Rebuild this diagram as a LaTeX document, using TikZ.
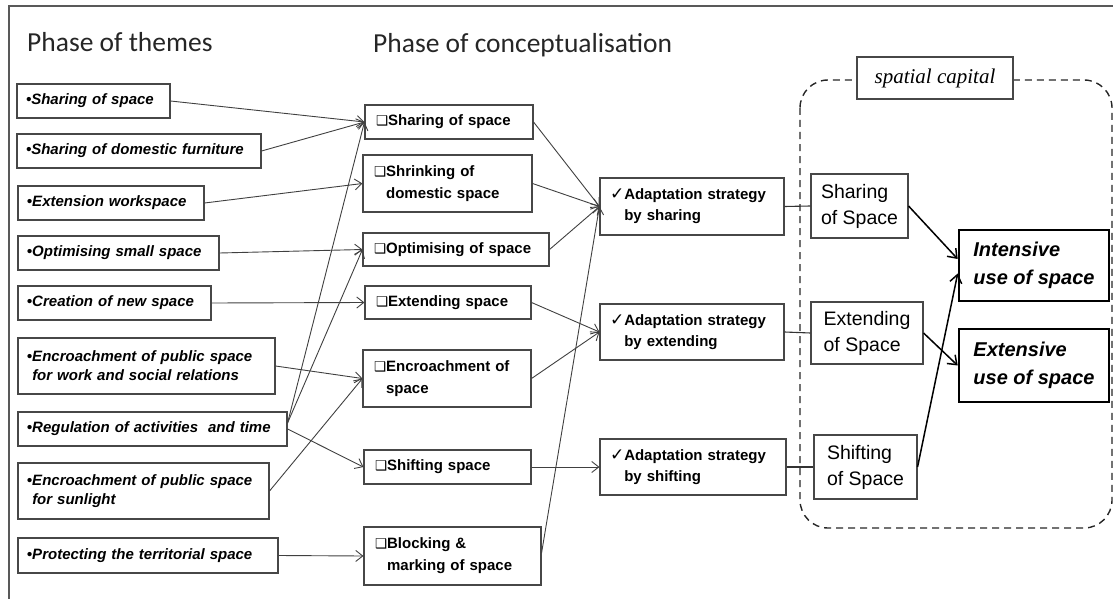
\documentclass[tikz,border=0pt]{standalone}
\usepackage{fontspec}
\setmainfont{Liberation Sans}
\newfontfamily\calib{Carlito}
\newfontfamily\tms{Liberation Serif}
\newfontfamily\djv{DejaVu Sans}
\usetikzlibrary{arrows.meta}
\newcommand{\sqb}{{\djv\fontsize{13.5}{13.5}\selectfont ❑}}
\newcommand{\ckm}{{\djv\fontsize{17}{17}\selectfont ✓}}
\newcommand{\bul}{•}
\begin{document}
\begin{tikzpicture}[x=1pt,y=-1pt,
  box/.style={draw=black!72, line width=1.1pt, rectangle, inner ysep=0pt, align=left, text=black},
  lbox/.style={box, inner xsep=9pt, font=\fontsize{15}{19}\selectfont\bfseries\itshape},
  mbox/.style={box, inner xsep=11pt, font=\fontsize{15}{22}\selectfont\bfseries},
  sbox/.style={box, inner xsep=10pt, font=\fontsize{15}{21}\selectfont\bfseries},
  pbox/.style={box, inner xsep=8pt, font=\fontsize{19.5}{26}\selectfont},
  rbox/.style={box, draw=black, line width=2.6pt, inner xsep=10pt, font=\fontsize{20}{28}\selectfont\bfseries\itshape},
  ttl/.style={anchor=base west, inner sep=0pt, text=black!85, font=\calib\fontsize{27.5}{30}\selectfont},
  arr/.style={draw=black!75, line width=0.9pt, -{Straight Barb[length=7pt,width=11pt]}},
  link/.style={draw=black!80, line width=1.1pt},
  tarr/.style={draw=black, line width=1.5pt, -{Straight Barb[length=8pt,width=12pt]}}]
\useasboundingbox (0,0) rectangle (1113,599);
\draw[black!65, line width=1.2pt] (9,599) -- (9,6) -- (1113,6);

\node[ttl] (t1) at (27,52) {Phase of themes};
\node[ttl] (t2) at (373,53) {Phase of conceptualisation};

% dashed container
\draw[black!85, line width=1.4pt, dash pattern=on 7pt off 5pt, rounded corners=28pt] (800,80) rectangle (1112,528);
\node[draw=black!72, line width=1.1pt, fill=white, minimum width=156pt, minimum height=42pt, inner sep=0pt,
  font=\tms\itshape\fontsize{21}{24}\selectfont] (cap) at (935,78) {spatial capital};

% left boxes
\node[lbox, text width=135pt, minimum height=34pt] (l1) at (93.5,101) {\bul Sharing of space};
\node[lbox, text width=226pt, minimum height=34pt] (l2) at (139,151) {\bul Sharing of domestic furniture};
\node[lbox, text width=168pt, minimum height=34pt] (l3) at (111,203) {\bul Extension workspace};
\node[lbox, text width=183pt, minimum height=34pt] (l4) at (118.5,253) {\bul Optimising small space};
\node[lbox, text width=175pt, minimum height=34pt] (l5) at (114.5,303) {\bul Creation of new space};
\node[lbox, text width=239pt, minimum height=56pt] (l6) at (146.5,366) {\bul Encroachment of public space\\\phantom{\bul}for work and social relations};
\node[lbox, text width=251pt, minimum height=34pt] (l7) at (152.5,429) {\bul Regulation of activities~ and time};
\node[lbox, text width=233pt, minimum height=56pt] (l8) at (143.5,491) {\bul Encroachment of public space\\\phantom{\bul}for sunlight};
\node[lbox, text width=242pt, minimum height=35pt] (l9) at (148,555.5) {\bul Protecting the territorial space};

% middle boxes
\node[mbox, text width=146pt, minimum height=34pt] (m1) at (449,122) {\sqb Sharing of space};
\node[mbox, text width=147pt, minimum height=57pt] (m2) at (447.5,183.5) {\sqb Shrinking of\\\phantom{\sqb}domestic space};
\node[mbox, text width=164pt, minimum height=33pt] (m3) at (456,249.5) {\sqb Optimising of space};
\node[mbox, text width=144pt, minimum height=33pt] (m4) at (448,302.5) {\sqb Extending space};
\node[mbox, text width=146pt, minimum height=57pt] (m5) at (447,378.5) {\sqb Encroachment of\\\phantom{\sqb}space};
\node[mbox, text width=145pt, minimum height=34pt] (m6) at (447.5,467) {\sqb Shifting space};
\node[mbox, text width=155pt, minimum height=58pt] (m7) at (452.5,556) {\sqb Blocking \&\\\phantom{\sqb}marking of space};

% strategy boxes
\node[sbox, text width=164pt, minimum height=57pt] (s1) at (692,206.5) {\ckm Adaptation strategy\\\phantom{\ckm}by sharing};
\node[sbox, text width=164pt, minimum height=56pt] (s2) at (692,332) {\ckm Adaptation strategy\\\phantom{\ckm}by extending};
\node[sbox, text width=166pt, minimum height=56pt] (s3) at (693,467) {\ckm Adaptation strategy\\\phantom{\ckm}by shifting};

% spatial capital boxes
\node[pbox, minimum width=97pt, minimum height=64pt] (p1) at (859.5,206) {Sharing\\of Space};
\node[pbox, minimum width=112pt, minimum height=62pt] (p2) at (867,333) {Extending\\of Space};
\node[pbox, minimum width=103pt, minimum height=64pt] (p3) at (865.5,467) {Shifting\\of Space};

% result boxes
\node[rbox, minimum width=150pt, minimum height=71pt] (r1) at (1034,265.5) {Intensive\\use of space};
\node[rbox, minimum width=150pt, minimum height=73pt] (r2) at (1034,365.5) {Extensive\\use of space};

% connectors: themes -> concepts
\draw[arr] (l1.east) -- (m1.west);
\draw[arr] (l2.east) -- (m1.west);
\draw[arr] (l3.east) -- (m2.west);
\draw[arr] (l4.east) -- (m3.west);
\draw[arr] (l5.east) -- (m4.west);
\draw[arr] (l6.east) -- (m5.west);
\draw[arr] ([yshift=6pt]l7.east) -- (m1.west);
\draw[arr] ([yshift=6pt]l7.east) -- (m3.west);
\draw[arr] (l7.east) -- (m6.west);
\draw[arr] (l8.east) -- (m5.west);
\draw[arr] (l9.east) -- (m7.west);

% concepts -> strategies
\draw[arr] (m1.east) -- (s1.west);
\draw[arr] (m2.east) -- (s1.west);
\draw[arr] (m3.east) -- (s1.west);
\draw[arr] ([yshift=3pt]m7.east) -- (s1.west);
\draw[arr] (m4.east) -- (s2.west);
\draw[arr] (m5.east) -- (s2.west);
\draw[arr] (m6.east) -- (s3.west);

% strategies -> spatial capital
\draw[link] (s1.east) -- (p1.west);
\draw[link] (s2.east) -- (p2.west);
\draw[link] (s3.east) -- (p3.west);

% spatial capital -> use of space
\draw[tarr] (p1.east) -- ([yshift=6.5pt]r1.west);
\draw[tarr] (p3.east) -- ([yshift=-8pt]r1.west);
\draw[tarr] (p2.east) -- (r2.west);
\end{tikzpicture}
\end{document}
